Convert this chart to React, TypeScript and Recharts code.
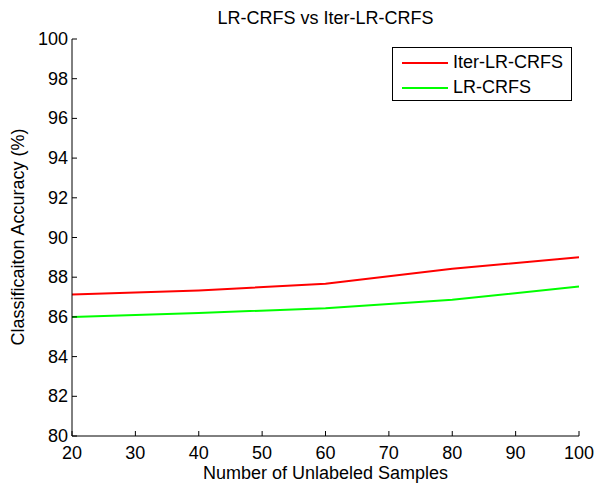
import { LineChart, Line, XAxis, YAxis } from 'recharts'

const samples = [20, 40, 60, 80, 100]
const iterLrCrfs = [87.13, 87.33, 87.67, 88.43, 89.0]
const lrCrfs = [86.0, 86.2, 86.43, 86.86, 87.53]
const xTicks = [20, 30, 40, 50, 60, 70, 80, 90, 100]
const yTicks = [80, 82, 84, 86, 88, 90, 92, 94, 96, 98, 100]

const data = samples.map((s, i) => ({
  samples: s,
  iter: iterLrCrfs[i],
  lr: lrCrfs[i],
}))

const series = [
  { key: 'iter', name: 'Iter-LR-CRFS', color: '#ff0000' },
  { key: 'lr', name: 'LR-CRFS', color: '#00ff00' },
]

const FONT = '"Liberation Sans", Arial, sans-serif'
const FS = 18
const TICK_LEN = 5

function BottomTick({ x, y, payload }: any) {
  return (
    <g>
      <line x1={x} y1={y} x2={x} y2={y - TICK_LEN} stroke="#000" />
      <text x={x} y={y + 23} textAnchor="middle" fontSize={FS} fontFamily={FONT} fill="#000">
        {payload.value}
      </text>
    </g>
  )
}

function TopTick({ x, y }: any) {
  return <line x1={x} y1={y} x2={x} y2={y + TICK_LEN} stroke="#000" />
}

function LeftTick({ x, y, payload }: any) {
  return (
    <g>
      <line x1={x} y1={y} x2={x + TICK_LEN} y2={y} stroke="#000" />
      <text x={x - 4} y={y + 6} textAnchor="end" fontSize={FS} fontFamily={FONT} fill="#000">
        {payload.value}
      </text>
    </g>
  )
}

function RightTick({ x, y }: any) {
  return <line x1={x} y1={y} x2={x - TICK_LEN} y2={y} stroke="#000" />
}

const textBox = {
  position: 'absolute' as const,
  textAlign: 'center' as const,
  fontFamily: FONT,
  fontSize: FS,
  lineHeight: '20px',
  whiteSpace: 'nowrap' as const,
}

export default function App() {
  return (
    <div style={{ position: 'absolute', left: 0, top: 0, width: 594, height: 485, background: '#fff' }}>
      <LineChart
        width={594}
        height={485}
        data={data}
        margin={{ top: 39, right: 15, bottom: 0, left: 0 }}
        style={{ position: 'absolute', left: 0, top: 0 }}
      >
        <XAxis
          dataKey="samples"
          type="number"
          domain={[20, 100]}
          ticks={xTicks}
          height={49}
          tickSize={0}
          tickMargin={0}
          tick={<BottomTick />}
          axisLine={{ stroke: '#000' }}
          interval={0}
        />
        <XAxis
          xAxisId="top"
          orientation="top"
          dataKey="samples"
          type="number"
          domain={[20, 100]}
          ticks={xTicks}
          height={0}
          tickSize={0}
          tickMargin={0}
          tick={<TopTick />}
          axisLine={{ stroke: '#000' }}
          interval={0}
        />
        <YAxis
          type="number"
          domain={[80, 100]}
          ticks={yTicks}
          width={72}
          tickSize={0}
          tickMargin={0}
          tick={<LeftTick />}
          axisLine={{ stroke: '#000' }}
          interval={0}
        />
        <YAxis
          yAxisId="right"
          orientation="right"
          type="number"
          domain={[80, 100]}
          ticks={yTicks}
          width={0}
          tickSize={0}
          tickMargin={0}
          tick={<RightTick />}
          axisLine={{ stroke: '#000' }}
          interval={0}
        />
        {series.map((s) => (
          <Line
            key={s.key}
            type="linear"
            dataKey={s.key}
            name={s.name}
            stroke={s.color}
            strokeWidth={2}
            dot={false}
            isAnimationActive={false}
          />
        ))}
      </LineChart>
      <div style={{ ...textBox, left: 72, width: 507, top: 8 }}>LR-CRFS vs Iter-LR-CRFS</div>
      <div style={{ ...textBox, left: 72, width: 507, top: 463 }}>Number of Unlabeled Samples</div>
      <div style={{ ...textBox, left: 18 - 150, top: 237 - 10, width: 300, transform: 'rotate(-90deg)' }}>
        Classificaiton Accuracy (%)
      </div>
      <div
        style={{
          position: 'absolute',
          left: 392,
          top: 47,
          width: 180,
          height: 54,
          border: '1px solid #000',
          background: '#fff',
          boxSizing: 'border-box',
          padding: '2px 0 0 9px',
          fontFamily: FONT,
          fontSize: FS,
        }}
      >
        {series.map((s) => (
          <div key={s.key} style={{ display: 'flex', alignItems: 'center', height: 25 }}>
            <span style={{ display: 'inline-block', width: 46, height: 2, background: s.color, marginRight: 5 }} />
            <span>{s.name}</span>
          </div>
        ))}
      </div>
    </div>
  )
}
